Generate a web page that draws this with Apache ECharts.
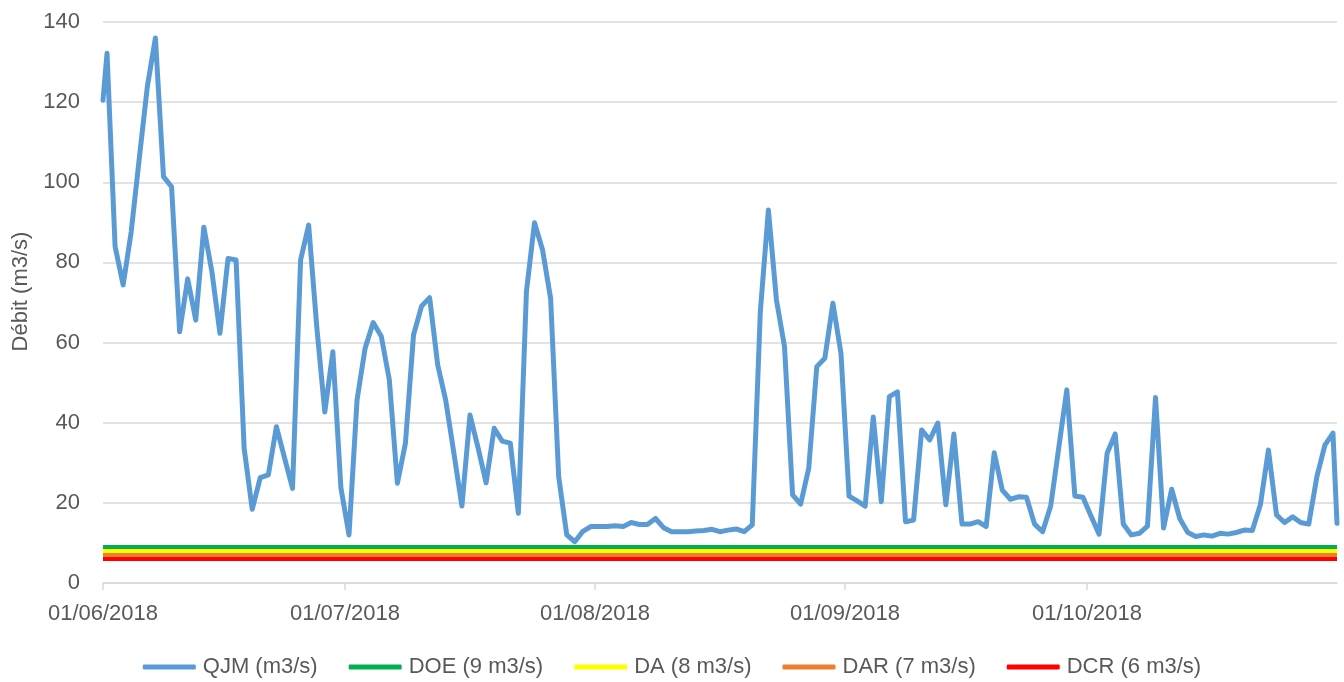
<!DOCTYPE html>
<html>
<head>
<meta charset="utf-8">
<script src="https://cdn.jsdelivr.net/npm/echarts@6/dist/echarts.min.js"></script>
<style>
  html, body { margin: 0; padding: 0; background: #ffffff; }
  #chart { width: 1344px; height: 682px; }
</style>
</head>
<body>
<div id="chart"></div>
<script>
// Daily mean flow QJM (m3/s), one value per day (taken at midday), 01/06/2018 .. 31/10/2018
const firstDay = [2018, 5, 1];
const dailyFlow = [
  132.2, 84, 74.4, 87.7, 106, 123.9, 136, 101.4, 98.9, 62.7,
  75.9, 65.6, 88.8, 77.7, 62.3, 81, 80.6, 33.6, 18.4, 26.3,
  27, 39, 31.3, 23.6, 80.6, 89.3, 64, 42.7, 57.7, 23.7,
  12, 45.7, 58.6, 65, 61.6, 50.7, 24.9, 34.9, 61.9, 69.1,
  71.2, 54.4, 45.5, 32.5, 19.2, 41.9, 33.8, 25, 38.6, 35.4,
  34.9, 17.4, 72.7, 89.9, 83.1, 71, 26.5, 12, 10.3, 12.9,
  14.1, 14.1, 14.1, 14.3, 14.1, 15.1, 14.6, 14.6, 16.1, 13.8,
  12.8, 12.8, 12.8, 13, 13.1, 13.4, 12.8, 13.2, 13.5, 12.8,
  14.5, 67.7, 93.1, 70.6, 59, 22, 19.7, 28.6, 54, 56.1,
  69.8, 57.3, 21.7, 20.5, 19.2, 41.4, 20.3, 46.5, 47.7, 15.3,
  15.7, 38.2, 35.7, 39.9, 19.5, 37.2, 14.7, 14.7, 15.3, 14.1,
  32.5, 23.2, 20.9, 21.5, 21.4, 14.7, 12.8, 19.2, 33.7, 48.2,
  21.7, 21.4, 16.7, 12.2, 32.4, 37.2, 14.7, 12, 12.4, 14.2,
  46.3, 13.7, 23.4, 16.1, 12.6, 11.6, 12, 11.7, 12.4, 12.2,
  12.6, 13.2, 13.1, 19.5, 33.2, 17, 15.1, 16.5, 15.1, 14.7,
  26.5, 34.4, 37.4
];
// Flow at the two ends of the period: 01/06/2018 00:00 and 01/11/2018 00:00
const edgeFlow = [120.5, 14.9];

// Regulatory flow thresholds
const thresholdNames = ['DOE (9 m3/s)', 'DA (8 m3/s)', 'DAR (7 m3/s)', 'DCR (6 m3/s)'];
const thresholdValues = [9, 8, 7, 6];

// Axis labels
const flowName = 'QJM (m3/s)';
const yAxisTitle = 'Débit (m3/s)';
const monthTicks = ['01/06/2018', '01/07/2018', '01/08/2018', '01/09/2018', '01/10/2018'];

const periodStart = new Date(firstDay[0], firstDay[1], firstDay[2], 0).getTime();
const periodEnd = new Date(2018, 10, 1, 0).getTime();

const flowData = [[periodStart, edgeFlow[0]]];
dailyFlow.forEach(function (v, i) {
  flowData.push([new Date(firstDay[0], firstDay[1], firstDay[2] + i, 12).getTime(), v]);
});
flowData.push([periodEnd, edgeFlow[1]]);

const thresholdColors = ['#00B050', '#FFFF00', '#ED7D31', '#FF0000'];

function pad(n) { return (n < 10 ? '0' : '') + n; }
function fmtDate(ts) {
  const d = new Date(ts);
  return pad(d.getDate()) + '/' + pad(d.getMonth() + 1) + '/' + d.getFullYear();
}

const FONT = 'Liberation Sans';
const TEXT = '#595959';
const FS = 22;

const series = [{
  name: flowName,
  type: 'line',
  data: flowData,
  symbol: 'none',
  smooth: false,
  lineStyle: { color: '#5B9BD5', width: 5, cap: 'round', join: 'round' },
  itemStyle: { color: '#5B9BD5' },
  z: 2
}];
thresholdNames.forEach(function (name, i) {
  series.push({
    name: name,
    type: 'line',
    data: [[periodStart, thresholdValues[i]], [periodEnd, thresholdValues[i]]],
    symbol: 'none',
    lineStyle: { color: thresholdColors[i], width: 4 },
    itemStyle: { color: thresholdColors[i] },
    z: 3 + i
  });
});

const chart = echarts.init(document.getElementById('chart'), null, { renderer: 'canvas' });
chart.setOption({
  animation: false,
  backgroundColor: '#ffffff',
  textStyle: { fontFamily: FONT },
  grid: { left: 103, right: 7, top: 22, bottom: 99, containLabel: false },
  legend: {
    top: 651,
    left: 'center',
    icon: 'roundRect',
    itemWidth: 53,
    itemHeight: 5,
    itemGap: 31,
    textStyle: { color: TEXT, fontSize: FS, fontFamily: FONT, padding: [0, 0, 0, 2] },
    data: [flowName].concat(thresholdNames)
  },
  xAxis: {
    type: 'time',
    min: periodStart,
    max: periodEnd,
    splitNumber: 5,
    axisLine: { show: true, lineStyle: { color: '#D9D9D9', width: 1.5 } },
    axisTick: { show: true, length: 7, lineStyle: { color: '#D9D9D9', width: 1.5 } },
    splitLine: { show: false },
    axisLabel: {
      color: TEXT,
      fontSize: FS,
      fontFamily: FONT,
      margin: 20,
      showMaxLabel: false,
      hideOverlap: false,
      formatter: function (value) {
        const s = fmtDate(value);
        return monthTicks.indexOf(s) >= 0 ? s : '';
      }
    }
  },
  yAxis: {
    type: 'value',
    min: 0,
    max: 140,
    interval: 20,
    name: yAxisTitle,
    nameLocation: 'middle',
    nameGap: 70,
    nameTextStyle: { color: TEXT, fontSize: FS, fontFamily: FONT, padding: [0, 0, 0, 22] },
    axisLine: { show: false },
    axisTick: { show: false },
    splitLine: { lineStyle: { color: '#D9D9D9', width: 1.5 } },
    axisLabel: { color: TEXT, fontSize: FS, fontFamily: FONT, margin: 23 }
  },
  series: series
});
</script>
</body>
</html>
